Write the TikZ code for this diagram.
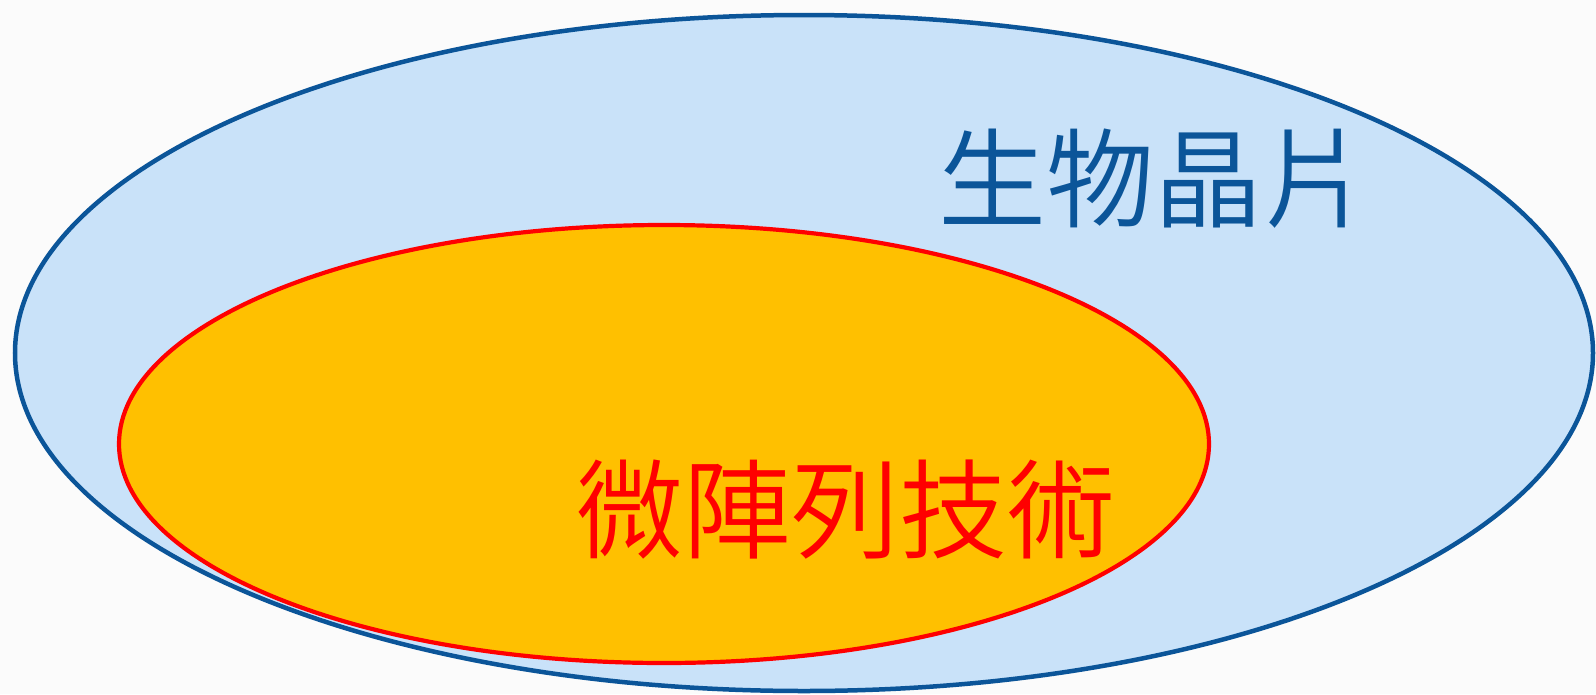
\documentclass[tikz,border=0pt]{standalone}
\usepackage{fontspec}
\newfontfamily\cjk{Noto Sans CJK TC}[UprightFont={* DemiLight}]
\definecolor{bg}{HTML}{FBFBFB}
\definecolor{outerfill}{HTML}{C9E2F9}
\definecolor{outerline}{HTML}{0B5599}
\definecolor{innerfill}{HTML}{FFC000}
\definecolor{innerline}{HTML}{FF0000}
\tikzset{
  outerset/.style={fill=outerfill,draw=outerline,line width=4.5pt},
  innerset/.style={fill=innerfill,draw=innerline,line width=4.2pt},
  lbl/.style={inner sep=0pt,font=\cjk\fontsize{108}{114}\selectfont}
}
\begin{document}
\begin{tikzpicture}[x=1pt,y=-1pt]
\fill[bg] (0,0) rectangle (1596,694);
\useasboundingbox (0,0) rectangle (1596,694);
\draw[outerset] (804,353) ellipse [x radius=789,y radius=338];
\draw[innerset] (664,444) ellipse [x radius=545,y radius=219];
\node[lbl,text=outerline] (chip) at (1154,179) {生物晶片};
\node[lbl,text=innerline] (micro) at (845,510) {微陣列技術};
\end{tikzpicture}
\end{document}
